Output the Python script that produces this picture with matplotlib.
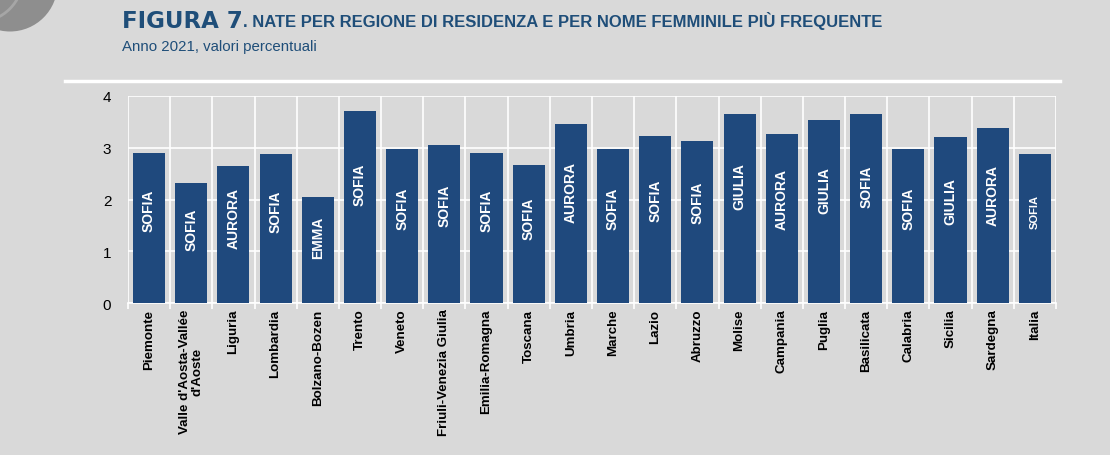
import matplotlib
matplotlib.use("Agg")
import matplotlib.pyplot as plt
from matplotlib.patches import Circle
import numpy as np

regioni = ["Piemonte", "Valle d'Aosta-Vallée\nd'Aoste", "Liguria", "Lombardia",
           "Bolzano-Bozen", "Trento", "Veneto", "Friuli-Venezia Giulia",
           "Emilia-Romagna", "Toscana", "Umbria", "Marche", "Lazio", "Abruzzo",
           "Molise", "Campania", "Puglia", "Basilicata", "Calabria", "Sicilia",
           "Sardegna", "Italia"]
valori = [2.89, 2.31, 2.65, 2.87, 2.05, 3.71, 2.97, 3.05, 2.89, 2.67, 3.46,
          2.97, 3.22, 3.14, 3.65, 3.26, 3.54, 3.65, 2.98, 3.20, 3.39, 2.88]
nomi = ["SOFIA", "SOFIA", "AURORA", "SOFIA", "EMMA", "SOFIA", "SOFIA", "SOFIA",
        "SOFIA", "SOFIA", "AURORA", "SOFIA", "SOFIA", "SOFIA", "GIULIA", "AURORA",
        "GIULIA", "SOFIA", "SOFIA", "GIULIA", "AURORA", "SOFIA"]

bg = "#d9d9d9"
blu = "#1f497d"
titolo_col = "#1f4e79"
plt.rcParams['font.family'] = ['Liberation Sans', 'DejaVu Sans']

W, H = 1110, 456
fig = plt.figure(figsize=(W / 100, H / 100), dpi=100, facecolor=bg)

# decorazione in alto a sinistra (coordinate in pixel)
fig.patches.append(Circle((10, H + 15), 47.5, transform=None,
                          facecolor="#8e8e8e", edgecolor="none", zorder=0))
fig.patches.append(Circle((-22, H + 22), 45, transform=None,
                          facecolor="none", edgecolor="#a6a6a6", linewidth=2, zorder=0))

ax = fig.add_axes([0.1153, 0.3333, 0.8360, 0.4540])
ax.set_facecolor(bg)

x = np.arange(len(regioni))
ax.bar(x, valori, width=0.76, color=blu, zorder=3)

for i, (v, n) in enumerate(zip(valori, nomi)):
    size = 8 if regioni[i] == "Italia" else 10
    ax.text(i, v * 0.62, n, rotation=90, ha="center", va="center",
            color="white", fontsize=size, fontweight="bold", zorder=4)

ax.set_xlim(-0.5, len(regioni) - 0.5)
ax.set_ylim(0, 4)
ax.set_yticks([0, 1, 2, 3, 4])
ax.tick_params(axis="y", length=0, labelsize=11, pad=12)
ax.set_xticks(x)
ax.set_xticklabels(regioni, rotation=90, fontsize=9.6, fontweight="bold",
                   linespacing=1.0)
ax.tick_params(axis="x", length=0, pad=4)
ax.set_xticks(np.arange(-0.5, len(regioni)), minor=True)
ax.tick_params(axis="x", which="minor", length=4, color="white", width=1.2)

ax.grid(axis="y", color="white", linewidth=1.2, zorder=0)
ax.grid(axis="x", which="minor", color="white", linewidth=1.2, zorder=0)
ax.grid(axis="x", which="major", visible=False)
for s in ["top", "right", "left"]:
    ax.spines[s].set_visible(False)
ax.spines["bottom"].set_color("white")
ax.spines["bottom"].set_linewidth(1.2)

# linea sotto il sottotitolo
fig.add_artist(plt.Line2D([0.059, 0.955], [0.82, 0.82], transform=fig.transFigure,
                          color="white", linewidth=2.5))

t1 = fig.text(0.110, 0.953, "FIGURA 7", fontsize=16.5, fontweight="heavy",
              color=titolo_col, family=['DejaVu Sans'], va="center")
fig.canvas.draw()
bb = t1.get_window_extent()
x2 = bb.x1 / fig.bbox.width
fig.text(x2, 0.953, ". NATE PER REGIONE DI RESIDENZA E PER NOME FEMMINILE PIÙ FREQUENTE",
         fontsize=12, fontweight="bold", color=titolo_col, va="center")
fig.text(0.110, 0.898, "Anno 2021, valori percentuali", fontsize=10.8,
         color=titolo_col, va="center")

fig.savefig("out.png", dpi=100, facecolor=bg)
